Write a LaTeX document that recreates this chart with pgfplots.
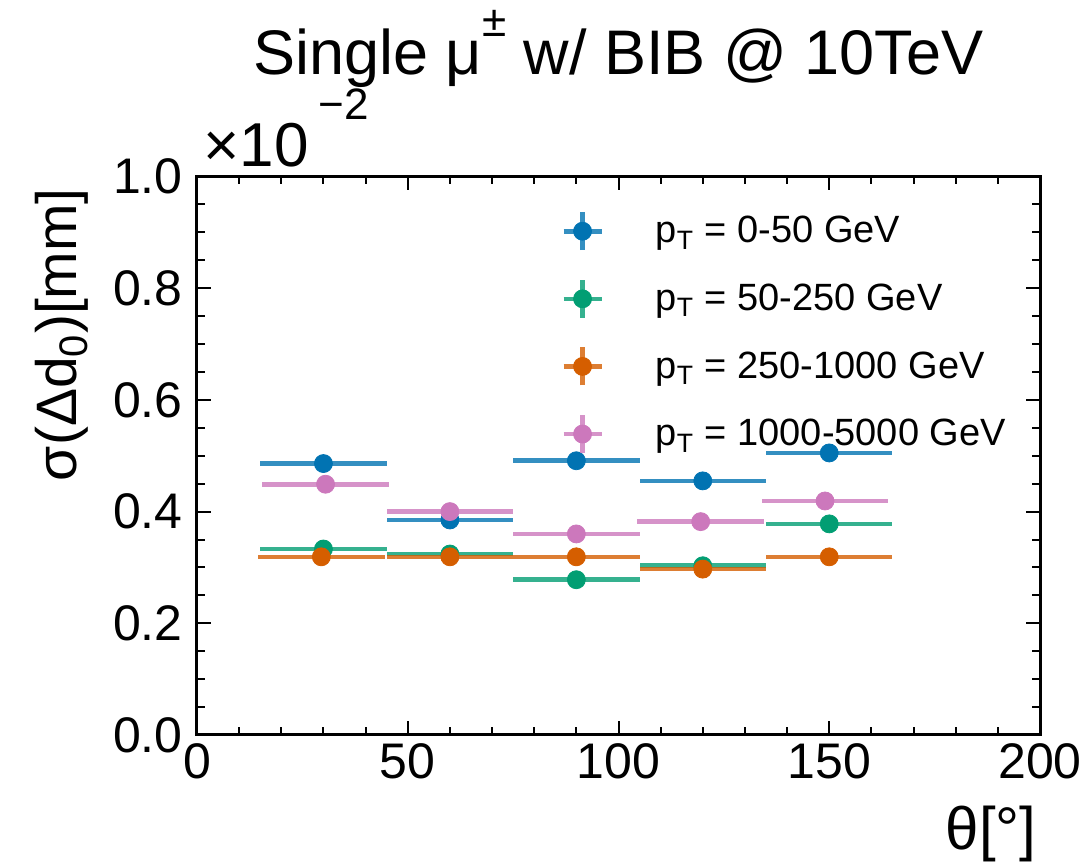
\documentclass[border=0pt]{standalone}
\usepackage{fontspec}
\setmainfont{Liberation Sans}
\usepackage{pgfplots}
\pgfplotsset{compat=1.18}
\definecolor{cBlue}{HTML}{0173B2}
\definecolor{cGreen}{HTML}{029E73}
\definecolor{cOrange}{HTML}{D55E00}
\definecolor{cPink}{HTML}{CC78BC}

\pgfplotsset{
  errpt/.style={
    only marks, mark=*, mark size=4.5pt,
    error bars/x dir=both, error bars/x explicit,
    error bars/y dir=both, error bars/y explicit,
    error bars/error mark=none,
    error bars/error bar style={line width=2.3pt, opacity=0.8},
  },
  errleg/.style={legend image code/.code={
    \draw[line width=2.3pt, opacity=0.8] (0pt,0pt)--(19pt,0pt) (9.5pt,-9.5pt)--(9.5pt,9.5pt);
    \fill (9.5pt,0pt) circle (4.5pt);
  }},
}

\begin{document}
\begin{tikzpicture}
\useasboundingbox (-98.5pt,-65pt) rectangle (446pt,367.5pt);
\begin{axis}[
    name=ax,
    scale only axis,
    width=421.5pt, height=279.25pt,
    xmin=0, xmax=200, ymin=0, ymax=1.0,
    xtick={0,50,100,150,200},
    ytick={0,0.2,0.4,0.6,0.8,1.0},
    minor x tick num=4, minor y tick num=3,
    tick align=inside,
    major tick length=7pt, minor tick length=4pt,
    every tick/.style={black, line width=1pt},
    axis line style={line width=1.5pt},
    scaled y ticks=false,
    yticklabel style={/pgf/number format/.cd, fixed, fixed zerofill, precision=1, /tikz/.cd, inner sep=0pt, xshift=-7pt},
    xticklabel style={inner sep=4pt},
    /pgf/number format/assume math mode=true,
    tick label style={font=\fontsize{25}{30}\selectfont},
    legend style={at={(rel axis cs:0.4245,0.948)}, anchor=north west, draw=none, fill=none,
      font=\fontsize{19}{22}\selectfont, row sep=12.5pt,
      /tikz/every odd column/.append style={column sep=24pt}},
    legend cell align=left,
]
\addplot+[errpt, errleg, color=cBlue, mark options={fill=cBlue, draw=cBlue}]
  table[x=x, y=y, x error=ex, y error=ey] {
x y ex ey
30 0.486 15 0.004
60 0.385 15 0.004
90 0.491 15 0.004
120 0.455 15 0.004
150 0.505 15 0.004
};
\addlegendentry{p\textsubscript{T} = 0-50 GeV}
\addplot+[errpt, errleg, color=cGreen, mark options={fill=cGreen, draw=cGreen}]
  table[x=x, y=y, x error=ex, y error=ey] {
x y ex ey
30 0.333 15 0.004
60 0.324 15 0.004
90 0.278 15 0.004
120 0.303 15 0.004
150 0.378 15 0.004
};
\addlegendentry{p\textsubscript{T} = 50-250 GeV}
\addplot+[errpt, errleg, color=cOrange, mark options={fill=cOrange, draw=cOrange}]
  table[x=x, y=y, x error=ex, y error=ey] {
x y ex ey
29.5 0.319 15 0.004
60 0.319 15 0.004
90 0.319 15 0.004
120 0.297 15 0.004
150 0.319 15 0.004
};
\addlegendentry{p\textsubscript{T} = 250-1000 GeV}
\addplot+[errpt, errleg, color=cPink, mark options={fill=cPink, draw=cPink}]
  table[x=x, y=y, x error=ex, y error=ey] {
x y ex ey
30.5 0.449 15 0.004
60 0.400 15 0.004
90 0.360 15 0.004
119.5 0.382 15 0.004
149 0.419 15 0.004
};
\addlegendentry{p\textsubscript{T} = 1000-5000 GeV}
\end{axis}

% title, multiplier and axis labels, placed against the axis box
\node[anchor=base, inner sep=0pt, font=\fontsize{31.5}{36}\selectfont]
  at ([yshift=50.8pt]ax.north)
  {Single μ\raisebox{19pt}{\fontsize{22}{22}\selectfont ±} w/ BIB @ 10TeV};
\node[anchor=base west, inner sep=0pt, font=\fontsize{31}{36}\selectfont]
  at ([xshift=3pt, yshift=4.8pt]ax.north west)
  {×10\,\raisebox{23.5pt}{\fontsize{22}{22}\selectfont −2}};
\node[anchor=base east, inner sep=0pt, font=\fontsize{30}{36}\selectfont]
  at ([xshift=-1.5pt, yshift=-57.5pt]ax.south east) {θ[°]};
\node[anchor=base east, rotate=90, inner sep=0pt, font=\fontsize{28.5}{34}\selectfont]
  at ([xshift=-60pt, yshift=-5.7pt]ax.north west) {σ(Δd\textsubscript{0})[mm]};
\end{tikzpicture}
\end{document}
